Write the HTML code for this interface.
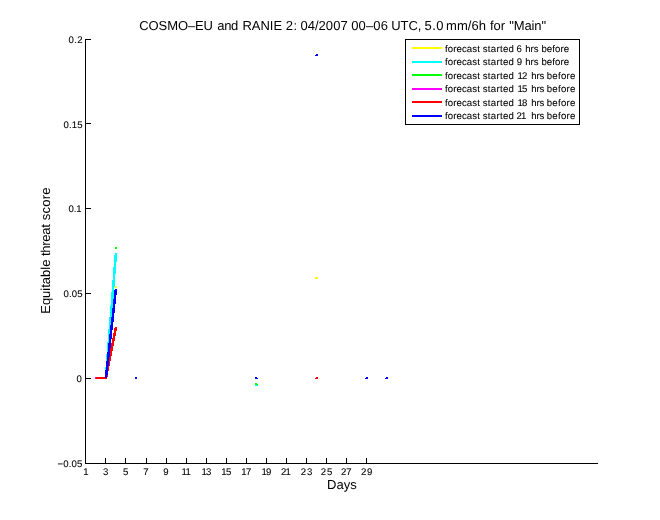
<!DOCTYPE html>
<html lang="en">
<head>
<meta charset="utf-8">
<title>COSMO-EU and RANIE 2 equitable threat score</title>
<style>
html,body{margin:0;padding:0;background:#fff;}
body{width:660px;height:520px;overflow:hidden;}
svg{display:block;font-family:"Liberation Sans", sans-serif;fill:#000;font-kerning:none;}
svg rect{shape-rendering:crispEdges;}
svg text{text-rendering:geometricPrecision;white-space:pre;}
svg text.s{stroke:#000;stroke-width:0.08px;}
</style>
</head>
<body>
<svg width="660" height="520" viewBox="0 0 660 520">
<rect x="0" y="0" width="660" height="520" fill="#fff"/>
<rect x="85" y="39" width="1" height="425" fill="#000"/>
<rect x="85" y="463" width="513" height="1" fill="#000"/>
<rect x="85" y="39" width="6" height="1" fill="#000"/>
<text class="s" y="43" font-size="9.6"><tspan x="68.53" letter-spacing="0.406">0.2</tspan></text>
<rect x="85" y="123" width="6" height="1" fill="#000"/>
<text class="s" y="128" font-size="9.6"><tspan x="63.62" letter-spacing="0.098">0.15</tspan></text>
<rect x="85" y="208" width="6" height="1" fill="#000"/>
<text class="s" y="212" font-size="9.6"><tspan x="68.53" letter-spacing="-0.101">0.1</tspan></text>
<rect x="85" y="293" width="6" height="1" fill="#000"/>
<text class="s" y="297" font-size="9.6"><tspan x="63.62" letter-spacing="0.098">0.05</tspan></text>
<rect x="85" y="378" width="6" height="1" fill="#000"/>
<text class="s" y="382" font-size="9.6"><tspan x="76.62">0</tspan></text>
<rect x="85" y="463" width="6" height="1" fill="#000"/>
<text class="s" y="467" font-size="9.6"><tspan x="57.53" letter-spacing="0.146">−0.05</tspan></text>
<rect x="85" y="458" width="1" height="6" fill="#000"/>
<text class="s" y="475" font-size="9.6"><tspan x="83.35">1</tspan></text>
<rect x="105" y="458" width="1" height="6" fill="#000"/>
<text class="s" y="475" font-size="9.6"><tspan x="103.01">3</tspan></text>
<rect x="125" y="458" width="1" height="6" fill="#000"/>
<text class="s" y="475" font-size="9.6"><tspan x="122.89">5</tspan></text>
<rect x="146" y="458" width="1" height="6" fill="#000"/>
<text class="s" y="475" font-size="9.6"><tspan x="143.23">7</tspan></text>
<rect x="166" y="458" width="1" height="6" fill="#000"/>
<text class="s" y="475" font-size="9.6"><tspan x="163.28">9</tspan></text>
<rect x="186" y="458" width="1" height="6" fill="#000"/>
<text class="s" y="475" font-size="9.6"><tspan x="181.57" letter-spacing="-1.478">11</tspan></text>
<rect x="206" y="458" width="1" height="6" fill="#000"/>
<text class="s" y="475" font-size="9.6"><tspan x="201.57" letter-spacing="-0.825">13</tspan></text>
<rect x="226" y="458" width="1" height="6" fill="#000"/>
<text class="s" y="475" font-size="9.6"><tspan x="221.37" letter-spacing="-0.644">15</tspan></text>
<rect x="246" y="458" width="1" height="6" fill="#000"/>
<text class="s" y="475" font-size="9.6"><tspan x="241.37" letter-spacing="-0.664">17</tspan></text>
<rect x="266" y="458" width="1" height="6" fill="#000"/>
<text class="s" y="475" font-size="9.6"><tspan x="261.57" letter-spacing="-0.892">19</tspan></text>
<rect x="286" y="458" width="1" height="6" fill="#000"/>
<text class="s" y="475" font-size="9.6"><tspan x="281.02" letter-spacing="-0.927">21</tspan></text>
<rect x="306" y="458" width="1" height="6" fill="#000"/>
<text class="s" y="475" font-size="9.6"><tspan x="300.72" letter-spacing="0.827">23</tspan></text>
<rect x="326" y="458" width="1" height="6" fill="#000"/>
<text class="s" y="475" font-size="9.6"><tspan x="320.72" letter-spacing="1.008">25</tspan></text>
<rect x="346" y="458" width="1" height="6" fill="#000"/>
<text class="s" y="475" font-size="9.6"><tspan x="340.92" letter-spacing="0.088">27</tspan></text>
<rect x="366" y="458" width="1" height="6" fill="#000"/>
<text class="s" y="475" font-size="9.6"><tspan x="360.92" letter-spacing="0.859">29</tspan></text>
<text y="489" font-size="13"><tspan x="326.93" letter-spacing="0.106">Days</tspan></text>
<text y="0" font-size="13" transform="translate(50,312.7) rotate(-90)"><tspan x="-1.07" letter-spacing="-0.008">Equitable</tspan> <tspan x="56.7" letter-spacing="-0.27">threat</tspan> <tspan x="92.54" letter-spacing="0.188">score</tspan></text>
<text y="30" font-size="13"><tspan x="139.34" letter-spacing="-0.105">COSMO–EU</tspan> <tspan x="217.25" letter-spacing="-0.35">and</tspan> <tspan x="242.43" letter-spacing="-0.026">RANIE</tspan> <tspan x="285.75" letter-spacing="0.599">2:</tspan> <tspan x="300.39" letter-spacing="0.045">04/2007</tspan> <tspan x="351.19" letter-spacing="0.157">00–06</tspan> <tspan x="391.3" letter-spacing="-0.086">UTC,</tspan> <tspan x="424.58" letter-spacing="0.428">5.0</tspan> <tspan x="446.04" letter-spacing="0.044">mm/6h</tspan> <tspan x="490.12" letter-spacing="-0.135">for</tspan> <tspan x="509.35" letter-spacing="-0.14">"Main"</tspan></text>
<rect x="405" y="39" width="175" height="1" fill="#000"/>
<rect x="405" y="124" width="175" height="1" fill="#000"/>
<rect x="405" y="39" width="1" height="86" fill="#000"/>
<rect x="579" y="39" width="1" height="86" fill="#000"/>
<rect x="412" y="47" width="30" height="2" fill="#ffff00"/>
<text class="s" y="52" font-size="9.6"><tspan x="444.96" letter-spacing="0.108">forecast</tspan> <tspan x="482.73" letter-spacing="0.306">started</tspan> <tspan x="516.61">6</tspan> <tspan x="525.13" letter-spacing="0.088">hrs</tspan> <tspan x="541.38" letter-spacing="0.085">before</tspan></text>
<rect x="412" y="61" width="30" height="2" fill="#00ffff"/>
<text class="s" y="65" font-size="9.6"><tspan x="444.96" letter-spacing="0.108">forecast</tspan> <tspan x="482.73" letter-spacing="0.306">started</tspan> <tspan x="516.65">9</tspan> <tspan x="525.13" letter-spacing="0.088">hrs</tspan> <tspan x="541.38" letter-spacing="0.085">before</tspan></text>
<rect x="412" y="74" width="30" height="2" fill="#00ff00"/>
<text class="s" y="79" font-size="9.6"><tspan x="444.96" letter-spacing="0.108">forecast</tspan> <tspan x="482.73" letter-spacing="0.306">started</tspan> <tspan x="517.57" letter-spacing="-0.864">12</tspan> <tspan x="531.23" letter-spacing="-0.112">hrs</tspan> <tspan x="546.78" letter-spacing="0.265">before</tspan></text>
<rect x="412" y="88" width="30" height="2" fill="#ff00ff"/>
<text class="s" y="92" font-size="9.6"><tspan x="444.96" letter-spacing="0.108">forecast</tspan> <tspan x="482.73" letter-spacing="0.306">started</tspan> <tspan x="517.57" letter-spacing="-0.944">15</tspan> <tspan x="531.23" letter-spacing="-0.112">hrs</tspan> <tspan x="546.78" letter-spacing="0.265">before</tspan></text>
<rect x="412" y="101" width="30" height="2" fill="#ff0000"/>
<text class="s" y="106" font-size="9.6"><tspan x="444.96" letter-spacing="0.108">forecast</tspan> <tspan x="482.73" letter-spacing="0.306">started</tspan> <tspan x="517.57" letter-spacing="-0.93">18</tspan> <tspan x="531.23" letter-spacing="-0.112">hrs</tspan> <tspan x="546.78" letter-spacing="0.265">before</tspan></text>
<rect x="412" y="115" width="30" height="2" fill="#0000ff"/>
<text class="s" y="119" font-size="9.6"><tspan x="444.96" letter-spacing="0.108">forecast</tspan> <tspan x="482.73" letter-spacing="0.306">started</tspan> <tspan x="516.62" letter-spacing="-1.027">21</tspan> <tspan x="531.23" letter-spacing="-0.112">hrs</tspan> <tspan x="546.78" letter-spacing="0.265">before</tspan></text>
<rect x="115" y="286" width="2" height="2" fill="#ffff00"/>
<rect x="315" y="277" width="3" height="2" fill="#ffff00"/>
<rect x="115" y="253" width="2" height="2" fill="#00ffff"/>
<rect x="114" y="255" width="3" height="7" fill="#00ffff"/>
<rect x="114" y="262" width="2" height="5" fill="#00ffff"/>
<rect x="113" y="267" width="3" height="7" fill="#00ffff"/>
<rect x="113" y="274" width="2" height="6" fill="#00ffff"/>
<rect x="112" y="280" width="3" height="7" fill="#00ffff"/>
<rect x="112" y="287" width="2" height="5" fill="#00ffff"/>
<rect x="111" y="292" width="3" height="7" fill="#00ffff"/>
<rect x="111" y="299" width="2" height="6" fill="#00ffff"/>
<rect x="110" y="305" width="3" height="6" fill="#00ffff"/>
<rect x="110" y="311" width="2" height="6" fill="#00ffff"/>
<rect x="109" y="317" width="3" height="7" fill="#00ffff"/>
<rect x="109" y="324" width="2" height="5" fill="#00ffff"/>
<rect x="108" y="329" width="3" height="7" fill="#00ffff"/>
<rect x="108" y="336" width="2" height="6" fill="#00ffff"/>
<rect x="107" y="342" width="3" height="7" fill="#00ffff"/>
<rect x="107" y="349" width="2" height="5" fill="#00ffff"/>
<rect x="106" y="354" width="3" height="7" fill="#00ffff"/>
<rect x="106" y="361" width="2" height="6" fill="#00ffff"/>
<rect x="105" y="367" width="3" height="6" fill="#00ffff"/>
<rect x="105" y="373" width="2" height="5" fill="#00ffff"/>
<rect x="255" y="384" width="3" height="2" fill="#00ffff"/>
<rect x="115" y="247" width="2" height="2" fill="#00ff00"/>
<rect x="255" y="383" width="2" height="1" fill="#00ff00"/>
<rect x="255" y="384" width="3" height="1" fill="#00ff00"/>
<rect x="95" y="377" width="2" height="2" fill="#ff00ff"/>
<rect x="96" y="377" width="11" height="2" fill="#ff0000"/>
<rect x="115" y="327" width="2" height="1" fill="#ff0000"/>
<rect x="114" y="328" width="3" height="3" fill="#ff0000"/>
<rect x="114" y="331" width="2" height="2" fill="#ff0000"/>
<rect x="113" y="333" width="3" height="3" fill="#ff0000"/>
<rect x="113" y="336" width="2" height="2" fill="#ff0000"/>
<rect x="112" y="338" width="3" height="3" fill="#ff0000"/>
<rect x="112" y="341" width="2" height="2" fill="#ff0000"/>
<rect x="111" y="343" width="3" height="3" fill="#ff0000"/>
<rect x="111" y="346" width="2" height="2" fill="#ff0000"/>
<rect x="110" y="348" width="3" height="3" fill="#ff0000"/>
<rect x="110" y="351" width="2" height="2" fill="#ff0000"/>
<rect x="109" y="353" width="3" height="3" fill="#ff0000"/>
<rect x="109" y="356" width="2" height="2" fill="#ff0000"/>
<rect x="108" y="358" width="3" height="3" fill="#ff0000"/>
<rect x="108" y="361" width="2" height="3" fill="#ff0000"/>
<rect x="107" y="364" width="3" height="2" fill="#ff0000"/>
<rect x="107" y="366" width="2" height="3" fill="#ff0000"/>
<rect x="106" y="369" width="3" height="2" fill="#ff0000"/>
<rect x="106" y="371" width="2" height="3" fill="#ff0000"/>
<rect x="105" y="374" width="3" height="3" fill="#ff0000"/>
<rect x="105" y="377" width="2" height="1" fill="#ff0000"/>
<rect x="316" y="377" width="2" height="1" fill="#ff0000"/>
<rect x="315" y="378" width="3" height="1" fill="#ff0000"/>
<rect x="115" y="289" width="2" height="1" fill="#0000ff"/>
<rect x="114" y="290" width="3" height="5" fill="#0000ff"/>
<rect x="114" y="295" width="2" height="4" fill="#0000ff"/>
<rect x="113" y="299" width="3" height="5" fill="#0000ff"/>
<rect x="113" y="304" width="2" height="4" fill="#0000ff"/>
<rect x="112" y="308" width="3" height="5" fill="#0000ff"/>
<rect x="112" y="313" width="2" height="4" fill="#0000ff"/>
<rect x="111" y="317" width="3" height="5" fill="#0000ff"/>
<rect x="111" y="322" width="2" height="3" fill="#0000ff"/>
<rect x="110" y="325" width="3" height="5" fill="#0000ff"/>
<rect x="110" y="330" width="2" height="4" fill="#0000ff"/>
<rect x="109" y="334" width="3" height="5" fill="#0000ff"/>
<rect x="109" y="339" width="2" height="4" fill="#0000ff"/>
<rect x="108" y="343" width="3" height="5" fill="#0000ff"/>
<rect x="108" y="348" width="2" height="4" fill="#0000ff"/>
<rect x="107" y="352" width="3" height="5" fill="#0000ff"/>
<rect x="107" y="357" width="2" height="4" fill="#0000ff"/>
<rect x="106" y="361" width="3" height="5" fill="#0000ff"/>
<rect x="106" y="366" width="2" height="4" fill="#0000ff"/>
<rect x="105" y="370" width="3" height="5" fill="#0000ff"/>
<rect x="105" y="375" width="2" height="3" fill="#0000ff"/>
<rect x="135" y="377" width="2" height="2" fill="#0000ff"/>
<rect x="255" y="377" width="2" height="1" fill="#0000ff"/>
<rect x="255" y="378" width="3" height="1" fill="#0000ff"/>
<rect x="316" y="54" width="2" height="1" fill="#0000ff"/>
<rect x="315" y="55" width="3" height="1" fill="#0000ff"/>
<rect x="366" y="377" width="2" height="1" fill="#0000ff"/>
<rect x="365" y="378" width="3" height="1" fill="#0000ff"/>
<rect x="386" y="377" width="2" height="1" fill="#0000ff"/>
<rect x="385" y="378" width="3" height="1" fill="#0000ff"/>
</svg>
</body>
</html>
